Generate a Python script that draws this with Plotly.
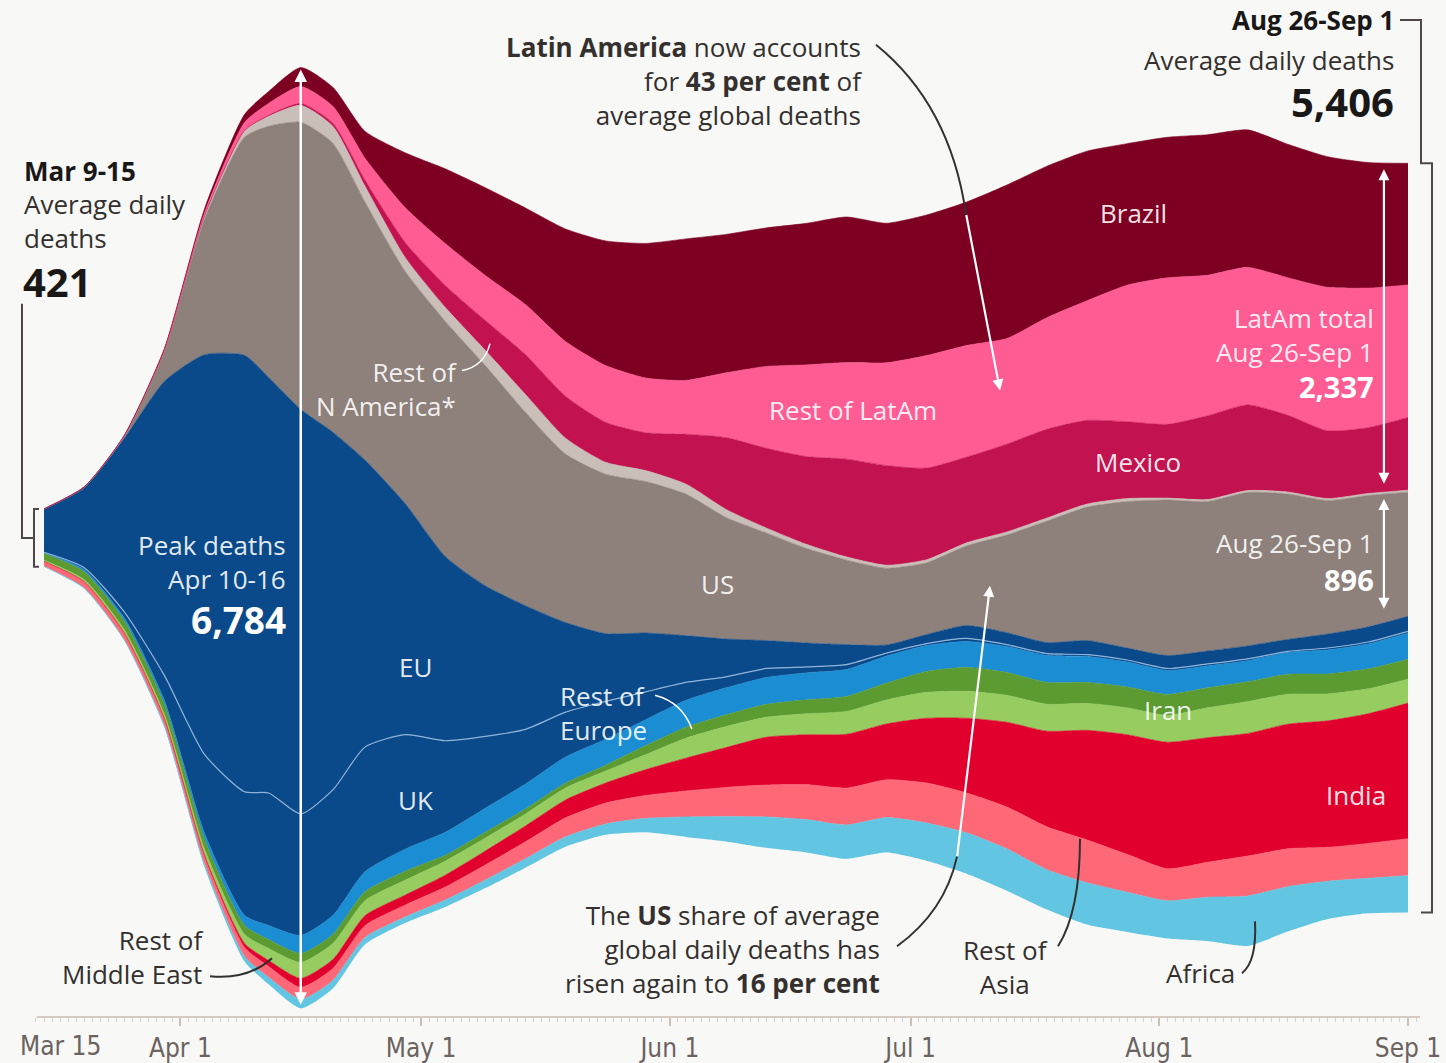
import numpy as np
import pandas as pd
import plotly.graph_objects as go

dates = ["2020-03-15", "2020-03-20", "2020-03-25", "2020-03-30", "2020-04-04", "2020-04-09",
         "2020-04-12", "2020-04-16", "2020-04-20", "2020-04-24", "2020-04-29", "2020-05-04",
         "2020-05-09", "2020-05-14", "2020-05-19", "2020-05-24", "2020-05-29", "2020-06-03",
         "2020-06-08", "2020-06-13", "2020-06-18", "2020-06-23", "2020-06-28", "2020-07-03",
         "2020-07-08", "2020-07-13", "2020-07-18", "2020-07-23", "2020-07-28", "2020-08-02",
         "2020-08-07", "2020-08-12", "2020-08-17", "2020-08-22", "2020-08-27", "2020-09-01"]

brazil = [0, 0, 2, 7, 29, 58, 86, 137, 137, 194, 395, 539, 633, 697, 812, 899, 971, 1021,
          999, 999, 1021, 1050, 1007, 1014, 1035, 1107, 1093, 1079, 1021, 1014, 1014, 992, 963, 942, 906, 877]
rest_latam = [0, 0, 2, 7, 22, 58, 86, 122, 122, 158, 252, 302, 324, 360, 395, 410, 395, 388,
              467, 590, 661, 697, 741, 812, 805, 762, 805, 863, 985, 1057, 1014, 992, 992, 1035, 1007, 956]
mexico = [0, 0, 0, 0, 1, 4, 7, 14, 22, 43, 108, 158, 216, 288, 302, 288, 273, 360,
          518, 575, 633, 705, 719, 661, 618, 633, 640, 604, 554, 532, 604, 618, 554, 489, 475, 525]
rest_n_america = [0, 0, 4, 7, 22, 43, 72, 122, 122, 115, 100, 100, 110, 129, 115, 86, 79, 72,
                  58, 36, 29, 22, 22, 22, 22, 22, 22, 22, 22, 14, 14, 14, 14, 14, 14, 14]
us = [4, 7, 14, 216, 978, 1575, 1812, 2071, 2085, 1862, 1675, 1697, 1589, 1395, 1215, 1150, 1093, 1021,
      877, 777, 683, 611, 554, 518, 575, 705, 877, 963, 1057, 1122, 1079, 1107, 1050, 963, 949, 896]
eu = [309, 575, 1251, 2121, 2883, 3149, 2998, 2919, 2581, 2071, 1668, 1330, 1086, 892, 647, 489, 424, 338,
      273, 201, 173, 144, 58, 65, 93, 86, 79, 101, 86, 93, 93, 93, 86, 101, 108, 108]
uk = [0, 14, 43, 180, 568, 892, 956, 877, 906, 899, 827, 661, 518, 395, 324, 273, 201, 129,
      79, 65, 43, 36, 22, 14, 22, 14, 14, 14, 14, 14, 14, 14, 7, 14, 14, 14]
rest_europe = [7, 14, 22, 29, 43, 72, 101, 129, 137, 144, 158, 165, 173, 180, 187, 187, 187, 194,
               194, 194, 194, 194, 194, 187, 187, 187, 194, 187, 180, 173, 158, 151, 158, 173, 180, 187]
iran = [50, 58, 65, 72, 72, 65, 65, 65, 65, 65, 65, 43, 43, 36, 36, 43, 65, 79,
        86, 93, 101, 108, 122, 151, 173, 165, 158, 151, 151, 151, 144, 144, 144, 144, 144, 144]
rest_middle_east = [7, 14, 22, 29, 43, 65, 86, 115, 115, 108, 108, 101, 93, 86, 86, 86, 108, 144,
                    151, 144, 151, 165, 173, 187, 194, 194, 194, 194, 194, 194, 216, 230, 216, 194, 180, 173]
india = [1, 2, 4, 7, 14, 29, 43, 65, 65, 72, 72, 86, 101, 115, 129, 144, 187, 237,
         288, 345, 360, 388, 403, 467, 539, 611, 690, 791, 863, 913, 899, 884, 899, 913, 935, 978]
rest_asia = [36, 43, 43, 43, 50, 65, 79, 86, 86, 86, 86, 93, 108, 122, 137, 151, 165, 187,
             209, 230, 252, 266, 273, 288, 288, 302, 309, 309, 273, 230, 252, 288, 273, 244, 252, 266]
africa = [4, 7, 7, 14, 22, 36, 50, 65, 58, 50, 43, 50, 58, 65, 72, 79, 101, 144,
          180, 223, 237, 244, 252, 273, 295, 302, 288, 302, 288, 273, 316, 360, 324, 273, 252, 266]

tick_dates = ["2020-03-15", "2020-04-01", "2020-05-01", "2020-06-01", "2020-07-01", "2020-08-01", "2020-09-01"]
tick_labels = ["Mar 15", "Apr 1", "May 1", "Jun 1", "Jul 1", "Aug 1", "Sep 1"]

# stacking order, bottom to top
layers = [
    ("Africa", africa, "#62c6e2"),
    ("Rest of Asia", rest_asia, "#ff6877"),
    ("India", india, "#e1002d"),
    ("Rest of Middle East", rest_middle_east, "#96cc60"),
    ("Iran", iran, "#5b9b32"),
    ("Rest of Europe", rest_europe, "#1b8dd3"),
    ("UK", uk, "#0b4a8a"),
    ("EU", eu, "#0b4a8a"),
    ("US", us, "#8e807b"),
    ("Rest of N America", rest_n_america, "#c9beb8"),
    ("Mexico", mexico, "#c2124f"),
    ("Rest of LatAm", rest_latam, "#ff5c93"),
    ("Brazil", brazil, "#7d0023"),
]

W, H = 1446, 1063
BOTTOM = 42
PH = H - BOTTOM          # plot area height in px
PER_PX = 7.186           # deaths per pixel
MID = 540                # pixel row of the stream centre line
PX_DAY = 8.0235          # pixels per day
X0_PX = 44               # pixel column of Mar 15

BG = "#f8f8f7"
DARK = "#33302e"
BLACK = "#1a1817"
LIGHT = "rgba(255,255,255,0.9)"
FONT = "Open Sans, Lato, sans-serif"
NARROW = "Liberation Sans Narrow, DejaVu Sans Condensed, Roboto, sans-serif"
TICK_COLOR = "#6b6360"
TXT = 26

total = np.sum([np.array(v, dtype=float) for _, v, _ in layers], axis=0)
base = -total / 2

ymax = MID * PER_PX
ymin = -(PH - MID) * PER_PX
start = pd.Timestamp("2020-03-15")
x_lo = start - pd.Timedelta(days=X0_PX / PX_DAY)
x_hi = x_lo + pd.Timedelta(days=W / PX_DAY)

fig = go.Figure()
spline = dict(shape="spline", smoothing=0.6)
fig.add_trace(go.Scatter(x=dates, y=base, mode="lines", line=dict(width=0, **spline),
                         hoverinfo="skip", showlegend=False))
cum = base.copy()
for name, vals, col in layers:
    cum = cum + np.array(vals, dtype=float)
    line = dict(color=col, width=0.6, **spline)
    if name == "UK":
        line = dict(color="#8fb3d9", width=1.2, **spline)
    fig.add_trace(go.Scatter(x=dates, y=cum, mode="lines", fill="tonexty", fillcolor=col,
                             line=line, name=name, showlegend=False))


def px(x):
    return x / W


def py(y):
    return 1 - y / PH


def vy(v):
    return (v - ymin) / (ymax - ymin)


def path(*segs):
    out = []
    for cmd, *pts in segs:
        xy = [f"{px(pts[i]):.5f},{py(pts[i + 1]):.5f}" for i in range(0, len(pts), 2)]
        out.append(cmd + " " + " ".join(xy))
    return " ".join(out)


def label(text, x, y, size=TXT, color=DARK, xanchor="center", family=FONT):
    fig.add_annotation(x=px(x), y=py(y), xref="paper", yref="paper", text=text, showarrow=False,
                       xanchor=xanchor, yanchor="middle", align=xanchor,
                       font=dict(size=size, color=color, family=family))


def pointer(d, color=DARK, width=2):
    fig.add_shape(type="path", path=d, xref="paper", yref="paper", layer="above",
                  line=dict(color=color, width=width))


def white_arrow(hx, hy, tx, ty):
    fig.add_annotation(x=px(hx), y=py(hy), xref="paper", yref="paper", ax=tx - hx, ay=ty - hy,
                       text="", showarrow=True, arrowhead=2, arrowsize=1, arrowwidth=2.2,
                       arrowcolor="white")


# peak double arrow
i_peak = dates.index("2020-04-16")
half = total[i_peak] / 2
fig.add_annotation(x="2020-04-16", y=half - 2 * PER_PX, ax="2020-04-16", ay=-half + 2 * PER_PX,
                   xref="x", yref="y", axref="x", ayref="y", text="", showarrow=True,
                   arrowhead=2, arrowside="end+start", arrowwidth=2.5, arrowsize=1, arrowcolor="white")

# right-hand double arrows: LatAm total and US at the last week
top_end = total[-1] / 2
latam_end = brazil[-1] + rest_latam[-1] + mexico[-1]
us_top = top_end - latam_end - rest_n_america[-1]
for y_a, y_b in [(top_end - 6 * PER_PX, top_end - latam_end + 5 * PER_PX),
                 (us_top - 7 * PER_PX, us_top - us[-1] + 6 * PER_PX)]:
    fig.add_annotation(x="2020-08-29", y=y_a, ax="2020-08-29", ay=y_b, xref="x", yref="y",
                       axref="x", ayref="y", text="", showarrow=True, arrowhead=2,
                       arrowside="end+start", arrowwidth=2.2, arrowsize=1, arrowcolor="white")

# brackets
top0 = total[0] / 2
pointer(path(("M", 22, 305), ("L", 22, MID), ("L", 34, MID)), color="#4d4845")
fig.add_shape(type="path", xref="paper", yref="paper", layer="above",
              path=f"M {px(39):.5f},{vy(top0):.5f} L {px(34):.5f},{vy(top0):.5f} "
                   f"L {px(34):.5f},{vy(-top0):.5f} L {px(39):.5f},{vy(-top0):.5f}",
              line=dict(color="#4d4845", width=2))
fig.add_shape(type="path", xref="paper", yref="paper", layer="above",
              path=f"M {px(1400):.5f},{py(20):.5f} L {px(1421):.5f},{py(20):.5f} "
                   f"L {px(1421):.5f},{vy(top_end):.5f} L {px(1432):.5f},{vy(top_end):.5f} "
                   f"L {px(1432):.5f},{vy(-top_end):.5f} L {px(1421):.5f},{vy(-top_end):.5f}",
              line=dict(color="#4d4845", width=2))

# x ruler
fig.add_shape(type="line", xref="x", yref="paper", y0=0, y1=0,
              x0=start - pd.Timedelta(days=0.9), x1=start + pd.Timedelta(days=171.5),
              line=dict(color="#d6cbc2", width=2))

# annotation pointers
pointer(path(("M", 876, 45), ("Q", 950, 105, 966, 215)))
white_arrow(1000, 392, 966, 215)
pointer(path(("M", 897, 950), ("Q", 945, 915, 957, 860)))
white_arrow(990, 588, 957, 860)
pointer(path(("M", 210, 980), ("Q", 248, 984, 272, 962)))
pointer(path(("M", 1058, 950), ("Q", 1080, 915, 1080, 842)))
pointer(path(("M", 1242, 977), ("Q", 1257, 965, 1255, 925)))
pointer(path(("M", 462, 372), ("Q", 484, 368, 490, 345)), color="white", width=1.5)
pointer(path(("M", 655, 698), ("Q", 682, 705, 692, 732)), color="white", width=1.5)

# texts outside the stream
label("<b>Mar 9-15</b>", 22, 172, color=BLACK, xanchor="left")
label("Average daily<br>deaths", 22, 222, xanchor="left")
label("<b>421</b>", 21, 283, size=40, color=BLACK, xanchor="left")
label("<b>Aug 26-Sep 1</b>", 1396, 20, color=BLACK, xanchor="right")
label("Average daily deaths", 1396, 60, xanchor="right")
label("<b>5,406</b>", 1396, 102, size=40, color=BLACK, xanchor="right")
label("<b>Latin America</b> now accounts<br>for <b>43 per cent</b> of<br>average global deaths",
      864, 81, xanchor="right")
label("The <b>US</b> share of average<br>global daily deaths has<br>risen again to <b>16 per cent</b>",
      882, 953, xanchor="right")
label("Rest of<br>Middle East", 205, 961, xanchor="right")
label("Rest of<br>Asia", 1005, 971)
label("Africa", 1200, 977)

# first date label sits a little right of its tick, as in the original
label(tick_labels[0], 60, 1050, size=26, color=TICK_COLOR, family=NARROW)

# texts inside the stream
label("Brazil", 1133, 214, color=LIGHT)
label("Rest of LatAm", 853, 412, color=LIGHT)
label("Mexico", 1138, 464, color=LIGHT)
label("US", 717, 586, color=LIGHT)
label("EU", 416, 670, color=LIGHT)
label("UK", 416, 803, color=LIGHT)
label("Iran", 1168, 713, color=LIGHT)
label("India", 1356, 798, color=LIGHT)
label("Rest of<br>Europe", 558, 716, color=LIGHT, xanchor="left")
label("Rest of<br>N America*", 459, 391, color=LIGHT, xanchor="right")
label("Peak deaths<br>Apr 10-16", 288, 564, color=LIGHT, xanchor="right")
label("<b>6,784</b>", 288, 622, size=37, color="white", xanchor="right")
label("LatAm total<br>Aug 26-Sep 1", 1376, 336, color=LIGHT, xanchor="right")
label("<b>2,337</b>", 1376, 388, size=29, color="white", xanchor="right")
label("Aug 26-Sep 1", 1376, 545, color=LIGHT, xanchor="right")
label("<b>896</b>", 1376, 582, size=29, color="white", xanchor="right")

minor_days = pd.date_range("2020-03-14", "2020-09-02", freq="D").strftime("%Y-%m-%d").tolist()

fig.update_layout(
    width=W, height=H,
    margin=dict(l=0, r=0, t=0, b=BOTTOM),
    paper_bgcolor=BG, plot_bgcolor=BG,
    showlegend=False,
    xaxis=dict(range=[x_lo, x_hi], tickvals=tick_dates, ticktext=[""] + tick_labels[1:],
               ticks="outside", ticklen=8, tickwidth=1.5, tickcolor="#cbbfb4",
               minor=dict(tickvals=minor_days, ticks="outside", ticklen=4, tickwidth=1,
                          tickcolor="#d9cfc6"),
               showgrid=False, zeroline=False, showline=False,
               tickfont=dict(size=26, color=TICK_COLOR, family=NARROW)),
    yaxis=dict(range=[ymin, ymax], visible=False, fixedrange=True),
)

fig.write_html("out.html", config={"displayModeBar": False},
               post_script="document.body.style.margin = '0';")
